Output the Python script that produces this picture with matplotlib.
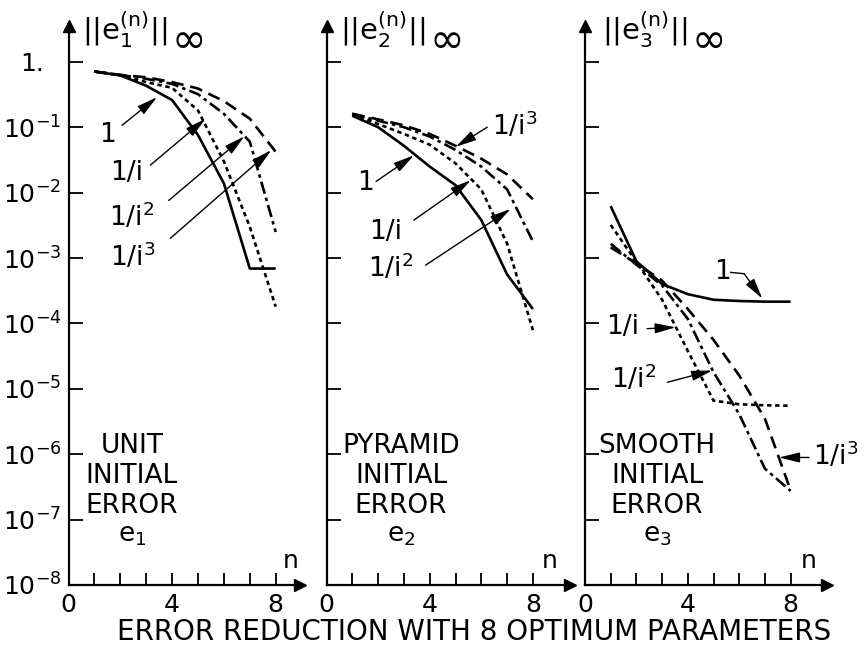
import numpy as np
import matplotlib.pyplot as plt
from matplotlib.ticker import NullLocator

plt.rcParams['font.family'] = ['DejaVu Sans']
plt.rcParams['mathtext.fontset'] = 'dejavusans'
plt.rcParams['lines.scale_dashes'] = False

W, H = 864, 652

# ---------------- data ----------------
n = [1, 2, 3, 4, 5, 6, 7, 8]

# unit initial error e1
e1_1  = [0.71, 0.62, 0.43, 0.26, 0.076, 0.0138, 6.9e-4, 6.9e-4]
e1_i  = [0.71, 0.62, 0.49, 0.40, 0.18, 0.030, 3.0e-3, 1.8e-4]
e1_i2 = [0.71, 0.63, 0.55, 0.46, 0.32, 0.16, 0.060, 2.5e-3]
e1_i3 = [0.71, 0.63, 0.58, 0.49, 0.39, 0.25, 0.135, 0.042]

# pyramid initial error e2
e2_1  = [0.15, 0.10, 0.052, 0.025, 0.013, 3.8e-3, 5.6e-4, 1.66e-4]
e2_i  = [0.16, 0.112, 0.079, 0.054, 0.028, 0.0112, 1.66e-3, 7.9e-5]
e2_i2 = [0.16, 0.126, 0.10, 0.072, 0.045, 0.025, 0.0112, 1.8e-3]
e2_i3 = [0.16, 0.132, 0.107, 0.079, 0.052, 0.033, 0.019, 7.9e-3]

# smooth initial error e3
e3_1  = [6.2e-3, 8.9e-4, 4.0e-4, 2.8e-4, 2.3e-4, 2.2e-4, 2.15e-4, 2.15e-4]
e3_i  = [3.2e-3, 8.7e-4, 2.3e-4, 3.8e-5, 6.6e-6, 5.8e-6, 5.6e-6, 5.5e-6]
e3_i2 = [1.65e-3, 7.9e-4, 3.8e-4, 1.17e-4, 1.8e-5, 4.1e-6, 6.0e-7, 2.75e-7]
e3_i3 = [1.45e-3, 8.3e-4, 4.5e-4, 1.66e-4, 5.6e-5, 1.6e-5, 3.5e-6, 2.8e-7]

ytick_vals = [1, 1e-1, 1e-2, 1e-3, 1e-4, 1e-5, 1e-6, 1e-7, 1e-8]
ytick_labels = ['1.'] + [r'$10^{-%d}$' % k for k in range(1, 9)]
xtick_labels = ['0', '', '', '', '4', '', '', '', '8']

panel_names = [['UNIT', 'INITIAL', 'ERROR', r'$\mathrm{e}_1$'],
               ['PYRAMID', 'INITIAL', 'ERROR', r'$\mathrm{e}_2$'],
               ['SMOOTH', 'INITIAL', 'ERROR', r'$\mathrm{e}_3$']]
titles = [r'$||\mathrm{e}_1^{(\mathrm{n})}||$', r'$||\mathrm{e}_2^{(\mathrm{n})}||$',
          r'$||\mathrm{e}_3^{(\mathrm{n})}||$']

styles = {
    '1': (0, ()),
    '1/i': (0, (3.2, 2.6)),
    '1/i2': (0, (9, 3, 2.5, 3)),
    '1/i3': (0, (9, 5)),
}

# ---------------- layout (pixels of the 864x652 picture) ----------------
ax_left = [68.5, 326.5, 585]
ax_right = [300, 570, 827]
units = [25.9, 25.8, 25.7]
y_bot, y_top = 585, 26
decade = 65.4
fs = 19


def fx(x):
    return x / W


def fy(y):
    return 1 - y / H


fig = plt.figure(figsize=(8.64, 6.52), dpi=100)

series = [(e1_1, e1_i, e1_i2, e1_i3),
          (e2_1, e2_i, e2_i2, e2_i3),
          (e3_1, e3_i, e3_i2, e3_i3)]

axes = []
for k in range(3):
    ax = fig.add_axes([fx(ax_left[k]), fy(y_bot), (ax_right[k] - ax_left[k]) / W,
                       (y_bot - y_top) / H])
    ax.set_yscale('log')
    ax.set_ylim(1e-8, 10 ** ((y_bot - y_top) / decade - 8))
    ax.set_xlim(0, (ax_right[k] - ax_left[k]) / units[k])
    ax.patch.set_visible(False)
    for s in ['top', 'right']:
        ax.spines[s].set_visible(False)
    for s in ['left', 'bottom']:
        ax.spines[s].set_linewidth(1.6)

    ax.set_yticks(ytick_vals)
    ax.yaxis.set_minor_locator(NullLocator())
    ax.set_xticks(range(9))
    ax.set_xticklabels(xtick_labels)
    ax.tick_params(axis='y', direction='in', length=10, width=1.3, pad=26,
                   labelsize=18)
    ax.tick_params(axis='x', direction='in', length=9, width=1.3, pad=6,
                   labelsize=18)
    if k == 0:
        ax.set_yticklabels(ytick_labels, ha='center')
    else:
        ax.set_yticklabels([])

    # arrow heads on the axes
    ax.plot(0, 1, '^k', transform=ax.transAxes, clip_on=False, markersize=9)
    ax.plot(1, 0, '>k', transform=ax.transAxes, clip_on=False, markersize=9)

    a, b, c, d = series[k]
    ax.plot(n, a, color='k', lw=1.9, linestyle=styles['1'])
    ax.plot(n, b, color='k', lw=1.9, linestyle=styles['1/i'])
    ax.plot(n, c, color='k', lw=1.9, linestyle=styles['1/i2'])
    ax.plot(n, d, color='k', lw=1.9, linestyle=styles['1/i3'])
    axes.append(ax)

arw = dict(arrowstyle='-|>,head_length=0.9,head_width=0.22', color='k', lw=1.0,
           shrinkA=0, shrinkB=0, mutation_scale=14)


def label(ax, txt, pos, tail, tip):
    ax.text(pos[0], 10 ** pos[1], txt, fontsize=fs, ha='center', va='center')
    ax.annotate('', xy=(tip[0], 10 ** tip[1]), xytext=(tail[0], 10 ** tail[1]),
                arrowprops=arw, annotation_clip=False)


ax1, ax2, ax3 = axes
label(ax1, '1', (1.49, -1.12), (2.07, -0.97), (3.42, -0.54))
label(ax1, '1/i', (2.25, -1.70), (3.16, -1.58), (5.29, -0.87))
label(ax1, r'1/i$^2$', (2.45, -2.37), (3.87, -2.12), (6.79, -1.14))
label(ax1, r'1/i$^3$', (2.5, -2.98), (3.93, -2.70), (7.83, -1.35))

label(ax2, r'1/i$^3$', (7.3, -0.98), (6.23, -1.0), (5.01, -1.30))
label(ax2, '1', (1.5, -1.86), (1.92, -1.83), (3.39, -1.43))
label(ax2, '1/i', (2.3, -2.60), (3.39, -2.42), (5.59, -1.81))
label(ax2, r'1/i$^2$', (2.5, -3.15), (3.84, -3.11), (7.14, -2.25))

ax3.text(5.34, 10 ** -3.22, '1', fontsize=fs, ha='center', va='center')
ax3.plot([5.67, 6.19], [10 ** -3.22, 10 ** -3.24], color='k', lw=1.0)
ax3.annotate('', xy=(6.9, 10 ** -3.62), xytext=(6.19, 10 ** -3.24),
             arrowprops=arw)
label(ax3, '1/i', (1.45, -4.06), (2.42, -4.08), (3.53, -4.06))
label(ax3, r'1/i$^2$', (1.9, -4.85), (3.2, -4.9), (4.95, -4.72))
label(ax3, r'1/i$^3$', (9.75, -6.02), (8.72, -6.05), (7.55, -6.05))

# axis titles and "n"
title_x = [82, 340, 602]
inf_x = [187, 445, 707]
n_x = [291, 550, 809]
name_x = [132, 401, 657]
name_y = [446, 476, 506, 535]
for k in range(3):
    fig.text(fx(title_x[k]), fy(30), titles[k], fontsize=21, ha='left',
             va='center')
    fig.text(fx(inf_x[k]), fy(40), r'$\infty$', fontsize=30, ha='center',
             va='center')
    fig.text(fx(n_x[k]), fy(561), 'n', fontsize=18, ha='center', va='center')
    for j, line in enumerate(panel_names[k]):
        fig.text(fx(name_x[k]), fy(name_y[j]), line, fontsize=fs, ha='center',
                 va='center')

fig.text(fx(474), fy(632), 'ERROR REDUCTION WITH 8 OPTIMUM PARAMETERS',
         fontsize=20, ha='center', va='center')

fig.savefig('out.png', dpi=100)
